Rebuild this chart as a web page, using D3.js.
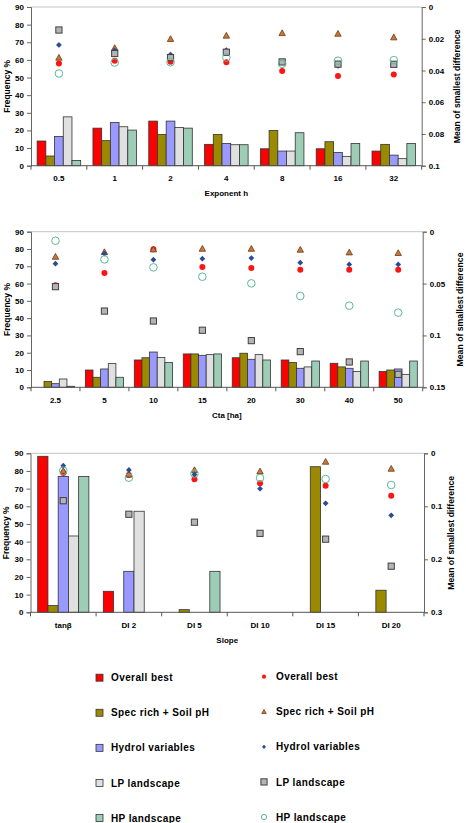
<!DOCTYPE html>
<html>
<head>
<meta charset="utf-8">
<script src="https://cdn.jsdelivr.net/npm/d3@7"></script>
<style>
  body { margin: 0; background: #fff; }
  svg text { font-family: "Liberation Sans", Arial, sans-serif; font-weight: bold; fill: #000; }
</style>
</head>
<body>
<svg width="466" height="823"></svg>
<script>
// series names (bars and points share them)
const seriesNames = ["Overall best", "Spec rich + Soil pH", "Hydrol variables", "LP landscape", "HP landscape"];

// panel 1: exponent h
const hCats = ["0.5", "1", "2", "4", "8", "16", "32"];
const hBarOverall = [14.0, 21.3, 25.3, 12.1, 9.6, 9.6, 8.3];
const hBarSpec    = [5.5, 14.2, 17.7, 17.7, 20.0, 13.6, 12.1];
const hBarHydrol  = [16.6, 24.5, 25.3, 12.6, 8.3, 7.5, 6.0];
const hBarLP      = [27.7, 22.1, 21.7, 11.9, 8.3, 5.3, 4.0];
const hBarHP      = [3.0, 20.2, 21.3, 11.9, 18.7, 12.6, 12.6];
const hPtOverall  = [0.0356, 0.0338, 0.0345, 0.0348, 0.0403, 0.0434, 0.0426];
const hPtSpec     = [0.0319, 0.0258, 0.0201, 0.0180, 0.0164, 0.0168, 0.0191];
const hPtHydrol   = [0.0239, 0.0273, 0.0300, 0.0272, 0.0350, 0.0371, 0.0358];
const hPtLP       = [0.0145, 0.0293, 0.0319, 0.0285, 0.0346, 0.0360, 0.0361];
const hPtHP       = [0.0419, 0.0350, 0.0348, 0.0319, 0.0358, 0.0338, 0.0335];

// panel 2: Cta
const ctaCats = ["2.5", "5", "10", "15", "20", "30", "40", "50"];
const ctaBarOverall = [0, 10.0, 15.8, 19.3, 17.1, 15.8, 13.9, 9.1];
const ctaBarSpec    = [3.3, 5.8, 17.1, 19.3, 19.7, 14.3, 11.8, 10.0];
const ctaBarHydrol  = [2.1, 10.6, 20.4, 18.5, 16.2, 11.0, 11.0, 10.6];
const ctaBarLP      = [4.8, 13.7, 17.3, 18.9, 18.9, 11.8, 9.1, 7.5];
const ctaBarHP      = [0.6, 5.8, 14.3, 19.3, 15.8, 15.2, 15.2, 15.2];
const ctaPtOverall  = [0.0517, 0.0398, 0.0170, 0.0340, 0.0350, 0.0366, 0.0366, 0.0366];
const ctaPtSpec     = [0.0241, 0.0196, 0.0170, 0.0164, 0.0164, 0.0173, 0.0199, 0.0205];
const ctaPtHydrol   = [0.0308, 0.0212, 0.0270, 0.0260, 0.0254, 0.0299, 0.0315, 0.0315];
const ctaPtLP       = [0.0530, 0.0765, 0.0861, 0.0950, 0.1050, 0.1156, 0.1256, 0.1375];
const ctaPtHP       = [0.0087, 0.0267, 0.0344, 0.0434, 0.0498, 0.0620, 0.0713, 0.0780];

// panel 3: slope
const slopeCats = ["tanβ", "DI 2", "DI 5", "DI 10", "DI 15", "DI 20"];
const slopeBarOverall = [88.3, 11.9, 0, 0, 0, 0];
const slopeBarSpec    = [3.8, 0, 1.5, 0, 82.4, 12.5];
const slopeBarHydrol  = [76.9, 23.2, 0, 0, 0, 0];
const slopeBarLP      = [43.2, 57.2, 0, 0, 0, 0];
const slopeBarHP      = [76.9, 0, 23.2, 0, 0, 0];
const slopePtOverall  = [0.0370, 0.0410, 0.0490, 0.0566, 0.0610, 0.0800];
const slopePtSpec     = [0.0330, 0.0400, 0.0315, 0.0340, 0.0158, 0.0290];
const slopePtHydrol   = [0.0234, 0.0315, 0.0400, 0.0667, 0.0944, 0.1170];
const slopePtLP       = [0.0894, 0.1150, 0.1300, 0.1510, 0.1620, 0.2130];
const slopePtHP       = [0.0328, 0.0460, 0.0385, 0.0466, 0.0485, 0.0598];

// axis ticks
const freqTicks = [0, 10, 20, 30, 40, 50, 60, 70, 80, 90];
const hDiffTicks = [0, 0.02, 0.04, 0.06, 0.08, 0.1];
const ctaDiffTicks = [0, 0.05, 0.1, 0.15];
const slopeDiffTicks = [0, 0.1, 0.2, 0.3];

const barColors = ["#ff0000", "#9b8a00", "#9999ff", "#e0e0e0", "#9dcdb6"];

const svg = d3.select("svg");

// point marker drawing, one style per series; k scales the size
function drawMarker(g, i, x, y, k = 1) {
  if (i === 0) {
    g.append("circle").attr("cx", x).attr("cy", y).attr("r", 3 * k).attr("fill", "#ff1414");
  } else if (i === 1) {
    const s = 3.2 * k;
    g.append("path").attr("transform", `translate(${x},${y})`)
      .attr("d", `M0,${-s}L${s},${s * 0.8}L${-s},${s * 0.8}Z`)
      .attr("fill", "#c9773a").attr("stroke", "#6b3a12").attr("stroke-width", 0.8);
  } else if (i === 2) {
    const s = 2.9 * k;
    g.append("path").attr("transform", `translate(${x},${y})`)
      .attr("d", `M0,${-s}L${s},0L0,${s}L${-s},0Z`).attr("fill", "#2b4b93");
  } else if (i === 3) {
    const s = 3.1 * k;
    g.append("rect").attr("x", x - s).attr("y", y - s).attr("width", 2 * s).attr("height", 2 * s)
      .attr("fill", "#b4b4b4").attr("stroke", "#404040").attr("stroke-width", 1);
  } else {
    g.append("circle").attr("cx", x).attr("cy", y).attr("r", 3.8 * k)
      .attr("fill", "none").attr("stroke", "#5cb894").attr("stroke-width", 1);
  }
}

function drawPanel(p) {
  const g = svg.append("g");

  const x0 = d3.scaleBand().domain(p.cats).range([p.left, p.right]).padding(0);
  const inner = x0.bandwidth() * 0.11;
  const x1 = d3.scaleBand().domain(d3.range(5)).range([inner, x0.bandwidth() - inner]).padding(0);
  const y = d3.scaleLinear().domain([0, 90]).range([p.bottom, p.top]);
  const y2 = d3.scaleLinear().domain([0, p.diffTicks[p.diffTicks.length - 1]]).range([p.top, p.bottom]);

  // top border
  g.append("line").attr("x1", p.left).attr("x2", p.right).attr("y1", p.top).attr("y2", p.top)
    .attr("stroke", "#c4c4c4").attr("stroke-width", 1);

  // bars
  p.bars.forEach((vals, i) => {
    g.append("g").selectAll("rect")
      .data(vals.map((v, j) => ({ cat: p.cats[j], v })))
      .join("rect")
      .attr("x", d => x0(d.cat) + x1(i))
      .attr("y", d => y(d.v))
      .attr("width", x1.bandwidth())
      .attr("height", d => y(0) - y(d.v))
      .attr("fill", barColors[i])
      .attr("stroke", d => d.v > 0 ? "#333" : "none")
      .attr("stroke-width", 0.8);
  });

  // points
  const pg = g.append("g");
  p.points.forEach((vals, i) => {
    vals.forEach((v, j) => drawMarker(pg, i, x0(p.cats[j]) + x0.bandwidth() / 2, y2(v)));
  });

  // left axis
  const la = g.append("g").attr("transform", `translate(${p.left},0)`)
    .call(d3.axisLeft(y).tickValues(freqTicks).tickSize(4).tickPadding(3));
  la.selectAll("text").attr("font-size", 8);

  // right axis
  const ra = g.append("g").attr("transform", `translate(${p.right},0)`)
    .call(d3.axisRight(y2).tickValues(p.diffTicks).tickSize(4).tickPadding(3).tickFormat(d => String(d)));
  ra.selectAll("text").attr("font-size", 8);

  [la, ra].forEach(a => {
    a.select(".domain").attr("stroke", "#666");
    a.selectAll(".tick line").attr("stroke", "#666");
    a.attr("font-family", null);
  });

  // bottom axis with category boundary ticks
  g.append("line").attr("x1", p.left).attr("x2", p.right).attr("y1", p.bottom).attr("y2", p.bottom)
    .attr("stroke", "#555");
  g.append("g").selectAll("line")
    .data(p.cats.concat(["end"]))
    .join("line")
    .attr("x1", d => d === "end" ? p.right : x0(d))
    .attr("x2", d => d === "end" ? p.right : x0(d))
    .attr("y1", p.bottom).attr("y2", p.bottom + 4)
    .attr("stroke", "#555");
  g.append("g").selectAll("text")
    .data(p.cats)
    .join("text")
    .attr("x", d => x0(d) + x0.bandwidth() / 2)
    .attr("y", p.bottom + 15.5)
    .attr("text-anchor", "middle")
    .attr("font-size", 8)
    .text(d => d);

  // titles
  g.append("text").attr("x", (p.left + p.right) / 2).attr("y", p.bottom + 30.5)
    .attr("text-anchor", "middle").attr("font-size", 8).text(p.xTitle);
  g.append("text")
    .attr("transform", `translate(${p.leftTitleX},${(p.top + p.bottom) / 2}) rotate(-90)`)
    .attr("text-anchor", "middle").attr("dy", "0.35em").attr("font-size", 8.5).text("Frequency %");
  g.append("text")
    .attr("transform", `translate(${p.rightTitleX},${(p.top + p.bottom) / 2}) rotate(-90)`)
    .attr("text-anchor", "middle").attr("dy", "0.35em").attr("font-size", 8.7).text("Mean of smallest difference");
}

drawPanel({
  cats: hCats, top: 7, bottom: 165.7, left: 31, right: 421.7,
  bars: [hBarOverall, hBarSpec, hBarHydrol, hBarLP, hBarHP],
  points: [hPtOverall, hPtSpec, hPtHydrol, hPtLP, hPtHP],
  diffTicks: hDiffTicks, xTitle: "Exponent h", leftTitleX: 7.3, rightTitleX: 457
});

drawPanel({
  cats: ctaCats, top: 231.7, bottom: 387.3, left: 31, right: 422.7,
  bars: [ctaBarOverall, ctaBarSpec, ctaBarHydrol, ctaBarLP, ctaBarHP],
  points: [ctaPtOverall, ctaPtSpec, ctaPtHydrol, ctaPtLP, ctaPtHP],
  diffTicks: ctaDiffTicks, xTitle: "Cta [ha]", leftTitleX: 7.3, rightTitleX: 460
});

drawPanel({
  cats: slopeCats, top: 453.3, bottom: 612.3, left: 30.5, right: 424,
  bars: [slopeBarOverall, slopeBarSpec, slopeBarHydrol, slopeBarLP, slopeBarHP],
  points: [slopePtOverall, slopePtSpec, slopePtHydrol, slopePtLP, slopePtHP],
  diffTicks: slopeDiffTicks, xTitle: "Slope", leftTitleX: 6, rightTitleX: 451
});

// legend
const legend = svg.append("g");
const rowY = d3.scalePoint().domain(d3.range(5)).range([677.7, 818]);
seriesNames.forEach((name, i) => {
  const yy = rowY(i);
  legend.append("rect").attr("x", 96).attr("y", yy - 3.5).attr("width", 7).attr("height", 7)
    .attr("fill", barColors[i]).attr("stroke", "#333").attr("stroke-width", 0.8);
  legend.append("text").attr("x", 111).attr("y", yy).attr("dy", "0.36em")
    .attr("font-size", 10).attr("letter-spacing", 0.4).attr("fill", "#222").text(name);
  drawMarker(legend, i, 264, yy - 1, i === 3 ? 1 : 0.7);
  legend.append("text").attr("x", 276).attr("y", yy - 1).attr("dy", "0.36em")
    .attr("font-size", 10).attr("letter-spacing", 0.4).attr("fill", "#222").text(name);
});
</script>
</body>
</html>
